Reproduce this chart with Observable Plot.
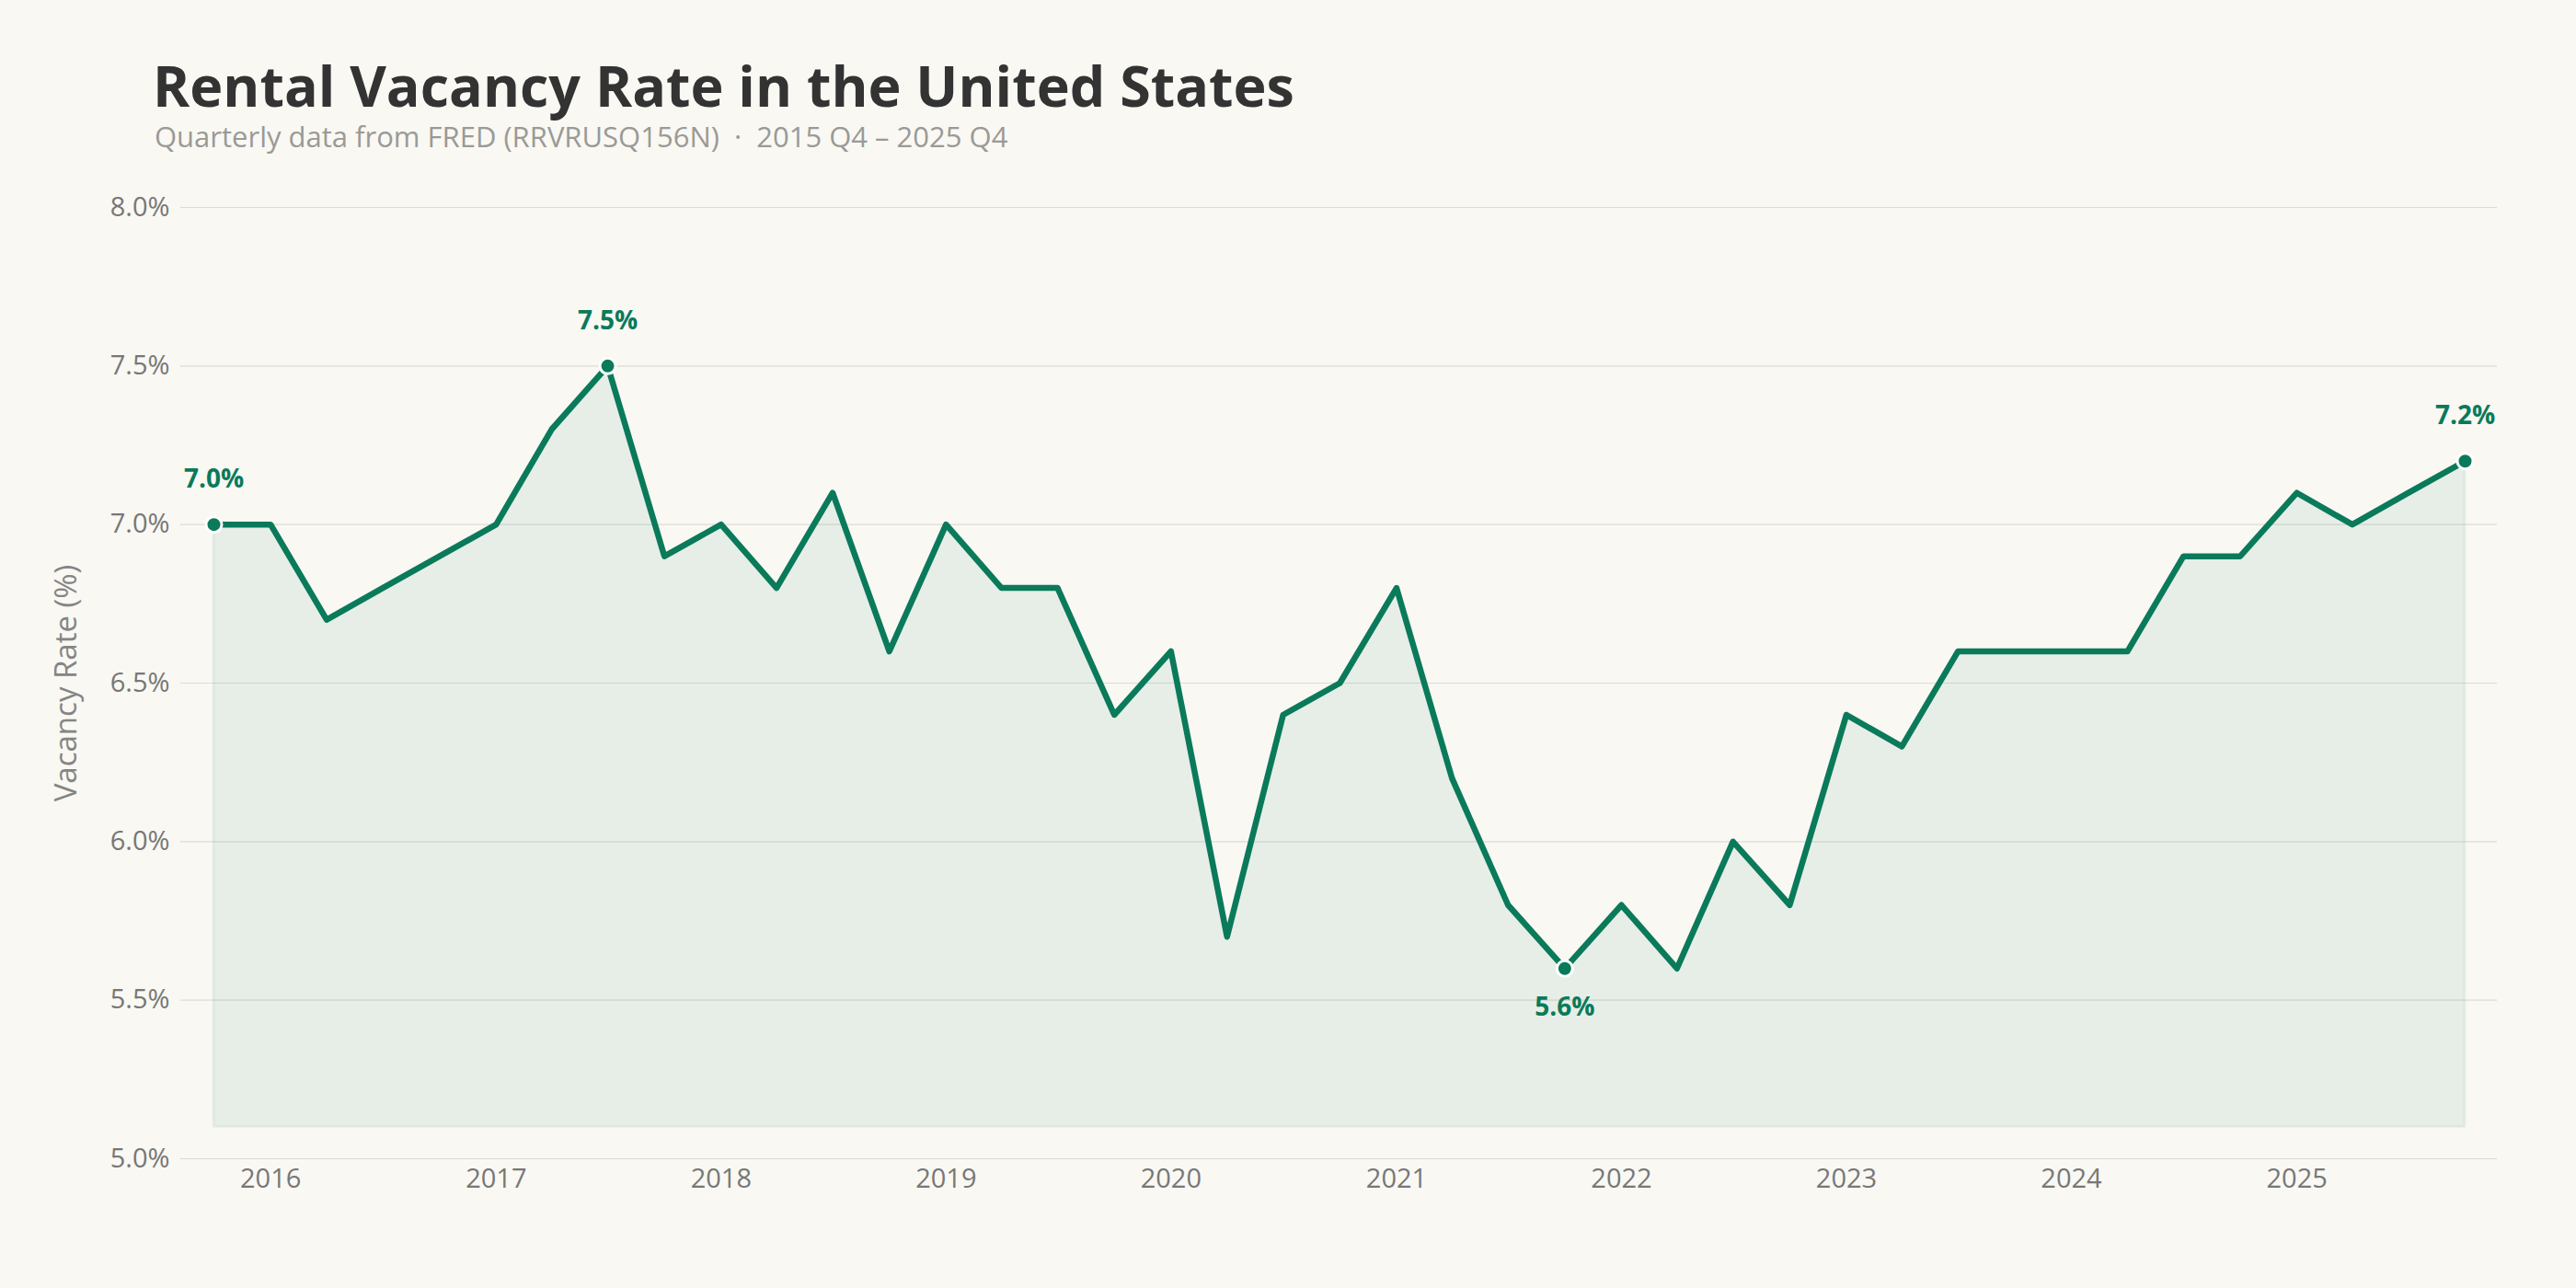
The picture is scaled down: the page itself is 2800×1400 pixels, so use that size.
<!DOCTYPE html>
<html>
<head>
<meta charset="utf-8">
<script src="https://cdn.jsdelivr.net/npm/d3@7"></script>
<script src="https://cdn.jsdelivr.net/npm/@observablehq/plot@0.6"></script>
<style>
  html, body { margin: 0; padding: 0; background: #f9f8f3; }
  body { width: 2800px; height: 1400px; position: relative; overflow: hidden; font-family: "Open Sans", sans-serif; }
  #title { position: absolute; left: 166px; top: 62px; font-size: 61px; line-height: 1; font-weight: 700; color: #333333; white-space: nowrap; }
  #subtitle { position: absolute; left: 168px; top: 133px; font-size: 31px; line-height: 1; color: #9a9a96; white-space: nowrap; }
  #chart { position: absolute; left: 0; top: 170px; }
</style>
</head>
<body>
<div id="title">Rental Vacancy Rate in the United States</div>
<div id="subtitle">Quarterly data from FRED (RRVRUSQ156N) &nbsp;·&nbsp; 2015 Q4 – 2025 Q4</div>
<div id="chart"></div>
<script>
// ---- data ----
const quarterDates = [
  "2015-10-01",
  "2016-01-01","2016-04-01","2016-07-01","2016-10-01",
  "2017-01-01","2017-04-01","2017-07-01","2017-10-01",
  "2018-01-01","2018-04-01","2018-07-01","2018-10-01",
  "2019-01-01","2019-04-01","2019-07-01","2019-10-01",
  "2020-01-01","2020-04-01","2020-07-01","2020-10-01",
  "2021-01-01","2021-04-01","2021-07-01","2021-10-01",
  "2022-01-01","2022-04-01","2022-07-01","2022-10-01",
  "2023-01-01","2023-04-01","2023-07-01","2023-10-01",
  "2024-01-01","2024-04-01","2024-07-01","2024-10-01",
  "2025-01-01","2025-04-01","2025-07-01","2025-10-01"
];
const vacancyRates = [
  7.0,
  7.0, 6.7, 6.8, 6.9,
  7.0, 7.3, 7.5, 6.9,
  7.0, 6.8, 7.1, 6.6,
  7.0, 6.8, 6.8, 6.4,
  6.6, 5.7, 6.4, 6.5,
  6.8, 6.2, 5.8, 5.6,
  5.8, 5.6, 6.0, 5.8,
  6.4, 6.3, 6.6, 6.6,
  6.6, 6.6, 6.9, 6.9,
  7.1, 7.0, 7.1, 7.2
];
const yearTicks = [2016, 2017, 2018, 2019, 2020, 2021, 2022, 2023, 2024, 2025];
const yTickValues = [5.0, 5.5, 6.0, 6.5, 7.0, 7.5, 8.0];
const yAxisLabel = "Vacancy Rate (%)";

// ---- build table ----
const data = quarterDates.map((d, i) => ({date: new Date(d + "T00:00:00Z"), value: vacancyRates[i]}));
const minVal = d3.min(vacancyRates);
const baseline = minVal - 0.5;
const iFirst = 0;
const iLast = data.length - 1;
const iMax = d3.maxIndex(vacancyRates);
const iMin = d3.minIndex(vacancyRates);
const highlights = [
  {...data[iFirst], pos: "above"},
  {...data[iMax], pos: "above"},
  {...data[iMin], pos: "below"},
  {...data[iLast], pos: "above"}
];
const xTickDates = yearTicks.map(y => new Date(Date.UTC(y, 0, 1)));
const green = "#0a7a5a";
const fmt = d => d.toFixed(1) + "%";

const chart = Plot.plot({
  width: 2800,
  height: 1159,
  marginTop: 55,
  marginBottom: 70,
  marginLeft: 196,
  marginRight: 86,
  style: {background: "transparent", fontFamily: "Open Sans", fontSize: "29px", color: "#777"},
  x: {type: "utc", domain: [data[0].date, data[iLast].date], insetLeft: 36, insetRight: 35},
  y: {domain: [5, 8]},
  marks: [
    Plot.gridY(yTickValues, {stroke: "#dcdcd6", strokeOpacity: 1, strokeWidth: 1.2}),
    Plot.areaY(data, {x: "date", y1: baseline, y2: "value", fill: green, fillOpacity: 0.08, stroke: green, strokeOpacity: 0.06, strokeWidth: 3}),
    Plot.lineY(data, {x: "date", y: "value", stroke: green, strokeWidth: 6.5, strokeLinejoin: "round", strokeLinecap: "round"}),
    Plot.dot(highlights, {x: "date", y: "value", r: 8.5, fill: green, stroke: "white", strokeWidth: 3}),
    Plot.text(highlights.filter(d => d.pos === "above"), {x: "date", y: "value", text: d => fmt(d.value), dy: -49, fill: green, fontWeight: 700, fontSize: 28}),
    Plot.text(highlights.filter(d => d.pos === "below"), {x: "date", y: "value", text: d => fmt(d.value), dy: 42, fill: green, fontWeight: 700, fontSize: 28}),
    Plot.axisX(xTickDates, {tickSize: 0, tickPadding: 11, tickFormat: d => d.getUTCFullYear().toString(), fill: "#777", fontSize: 29, label: null}),
    Plot.axisY(yTickValues, {tickSize: 0, tickPadding: 12, tickFormat: fmt, fill: "#777", fontSize: 29, label: null}),
    Plot.text([yAxisLabel], {frameAnchor: "left", textAnchor: "middle", lineAnchor: "middle", rotate: -90, dx: -124, fill: "#858585", fontSize: 33})
  ]
});
document.getElementById("chart").appendChild(chart);
</script>
</body>
</html>
